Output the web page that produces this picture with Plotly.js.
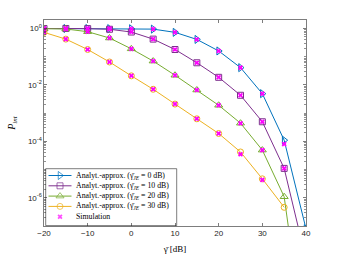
<!DOCTYPE html>
<html><head><meta charset="utf-8">
<script src="https://cdn.plot.ly/plotly-3.0.1.min.js"></script>
<style>html,body{margin:0;padding:0;background:#fff}#chart{width:339px;height:255px}</style>
</head><body><div id="chart"></div>
<script>
const snrDb = [-20,-15,-10,-5,0,5,10,15,20,25,30,35,40];
const snrDbJE30 = [-20,-15,-10,-5,0,5,10,15,20,25,30,35];
const pJE0  = [1.0,1.0,1.0,0.99,0.98,0.95,0.73,0.41,0.16,0.041,0.0049,1.1e-4,8e-8];
const pJE10 = [1.0,1.0,0.99,0.94,0.75,0.42,0.18,0.061,0.0186,0.0043,4.95e-4,1.1e-5,6.5e-9];
const pJE20 = [0.98,0.96,0.77,0.46,0.19,0.07,0.022,0.0066,0.0019,4.4e-4,4.9e-5,1.09e-6,3e-12];
const pJE30 = [0.73,0.42,0.18,0.065,0.021,0.007,0.0021,6.3e-4,1.9e-4,4.2e-5,4.7e-6,4.6e-7];
const simX = [-20,-15,-10,-5,0,5,10,15,20,25,30,35,
              -20,-15,-10,-5,0,5,10,15,20,25,30,35,
              -20,-15,-10,-5,0,5,10,15,20,25,30,
              -20,-15,-10,-5,0,5,10,15,20,25,30];
const simY = [1.0,1.0,1.0,0.99,0.98,0.95,0.73,0.41,0.16,0.041,0.0049,8e-5,
              1.0,1.0,0.99,0.94,0.75,0.42,0.18,0.061,0.0186,0.0043,4.95e-4,1.1e-5,
              0.98,0.96,0.77,0.46,0.19,0.07,0.022,0.0066,0.0019,4.4e-4,4.9e-5,
              0.73,0.42,0.18,0.065,0.021,0.007,0.0021,6.3e-4,1.9e-4,3.5e-5,4.3e-6];
const names = ['Analyt.-approx. (γ̄<sub><i>JE</i></sub> = 0 dB)',
               'Analyt.-approx. (γ̄<sub><i>JE</i></sub> = 10 dB)',
               'Analyt.-approx. (γ̄<sub><i>JE</i></sub> = 20 dB)',
               'Analyt.-approx. (γ̄<sub><i>JE</i></sub> = 30 dB)',
               'Simulation'];
const xTicks = [-20,-10,0,10,20,30,40];
const yTickExp = [-6,-4,-2,0];
const yTickLabels = yTickExp.map(e => '10<sup>' + e + '</sup>');

const colors = ['#0072BD','#7E2F8E','#77AC30','#EDB120'];
const simColor = '#FF00FF';
const symbols = ['triangle-right-open','square-open','triangle-up-open','circle-open'];
const sizes = [7,6,7,6];
const series = [[snrDb,pJE0],[snrDb,pJE10],[snrDb,pJE20],[snrDbJE30,pJE30]];
const traces = series.map((s,i) => ({
  x: s[0], y: s[1], name: names[i], type: 'scatter', mode: 'lines+markers', showlegend: false,
  line: {color: colors[i], width: 1},
  marker: {symbol: symbols[i], size: sizes[i], color: colors[i], line: {width: 1, color: colors[i]}}
}));
traces.push({x: simX, y: simY, name: names[4], type: 'scatter', mode: 'markers', showlegend: false,
  marker: {symbol: 'x', size: 4.5, color: simColor, line: {width: 0}}});

const minorVals = [];
for (let e = -7; e <= 0; e++) {
  if (e % 2 !== 0) minorVals.push(Math.pow(10, e));
  for (let m = 2; m <= 9; m++) minorVals.push(m * Math.pow(10, e));
}

// Legend drawn by hand (plot-area fractions)
const W = 339, H = 255, ML = 44, MR = 33, MT = 20, MB = 29;
const PW = W - ML - MR, PH = H - MT - MB;
const fx = p => (p - ML) / PW;
const fy = p => (H - MB - p) / PH;
const rowsPx = [175.5, 185.8, 196.1, 206.4, 216.7];
const shapes = [{type: 'rect', xref: 'paper', yref: 'paper', x0: fx(45.7), x1: fx(176.7), y0: fy(225.6), y1: fy(168.7),
  line: {color: '#262626', width: 0.6}, fillcolor: '#fff', layer: 'below'}];
const annotations = [];
const legX = [], legY = [], legSym = [], legCol = [], legSize = [];
names.forEach((n, i) => {
  const yy = fy(rowsPx[i]);
  if (i < 4) {
    shapes.push({type: 'line', xref: 'paper', yref: 'paper', x0: fx(48.5), x1: fx(71.5), y0: yy, y1: yy,
      line: {color: colors[i], width: 1}, layer: 'below'});
  }
  legX.push(fx(60)); legY.push(yy);
  legSym.push(i < 4 ? symbols[i] : 'x'); legCol.push(i < 4 ? colors[i] : simColor);
  legSize.push(i < 4 ? sizes[i] : 4.5);
  annotations.push({xref: 'paper', yref: 'paper', x: fx(74), y: yy, xanchor: 'left', yanchor: 'middle',
    text: n, showarrow: false, font: {family: 'Liberation Serif, Times New Roman, serif', size: 7.8, color: '#000'}});
});
traces.push({x: legX, y: legY, xaxis: 'x2', yaxis: 'y2', type: 'scatter', mode: 'markers', showlegend: false,
  cliponaxis: false, hoverinfo: 'skip',
  marker: {symbol: legSym, size: legSize, color: legCol, line: {width: legSym.map(s => s === 'x' ? 0 : 1), color: legCol}}});

const axFont = {family: 'Liberation Sans, Arial, sans-serif', size: 8, color: '#262626'};
const layout = {
  width: W, height: H,
  margin: {l: ML, r: MR, t: MT, b: MB, pad: 0},
  paper_bgcolor: '#fff', plot_bgcolor: '#fff',
  showlegend: false,
  shapes: shapes, annotations: annotations,
  xaxis: {range: [-20, 40], tickmode: 'array', tickvals: xTicks, ticks: 'inside', ticklen: 3,
    tickwidth: 0.6, tickcolor: '#262626', showline: true, linecolor: '#262626', linewidth: 0.6,
    mirror: 'ticks', showgrid: false, zeroline: false, tickfont: axFont,
    title: {text: 'γ̄ [dB]', standoff: 8, font: {family: 'Liberation Serif, serif', size: 9, color: '#000'}}},
  yaxis: {type: 'log', range: [-7, 0.301], tickmode: 'array',
    tickvals: yTickExp.map(e => Math.pow(10, e)), ticktext: yTickLabels,
    ticks: 'inside', ticklen: 3, tickwidth: 0.6, tickcolor: '#262626',
    showline: true, linecolor: '#262626', linewidth: 0.6, mirror: 'ticks',
    showgrid: false, zeroline: false, tickfont: axFont,
    minor: {tickmode: 'array', tickvals: minorVals, ticks: 'inside', ticklen: 1.8, tickwidth: 0.5, tickcolor: '#262626', showgrid: false},
    title: {text: '<i>P</i><sub><i>int</i></sub>', standoff: 10, font: {family: 'Liberation Serif, serif', size: 10, color: '#000'}}},
  xaxis2: {overlaying: 'x', range: [0, 1], visible: false, fixedrange: true},
  yaxis2: {overlaying: 'y', range: [0, 1], visible: false, fixedrange: true}
};
Plotly.newPlot('chart', traces, layout, {displayModeBar: false, staticPlot: true});
</script></body></html>
